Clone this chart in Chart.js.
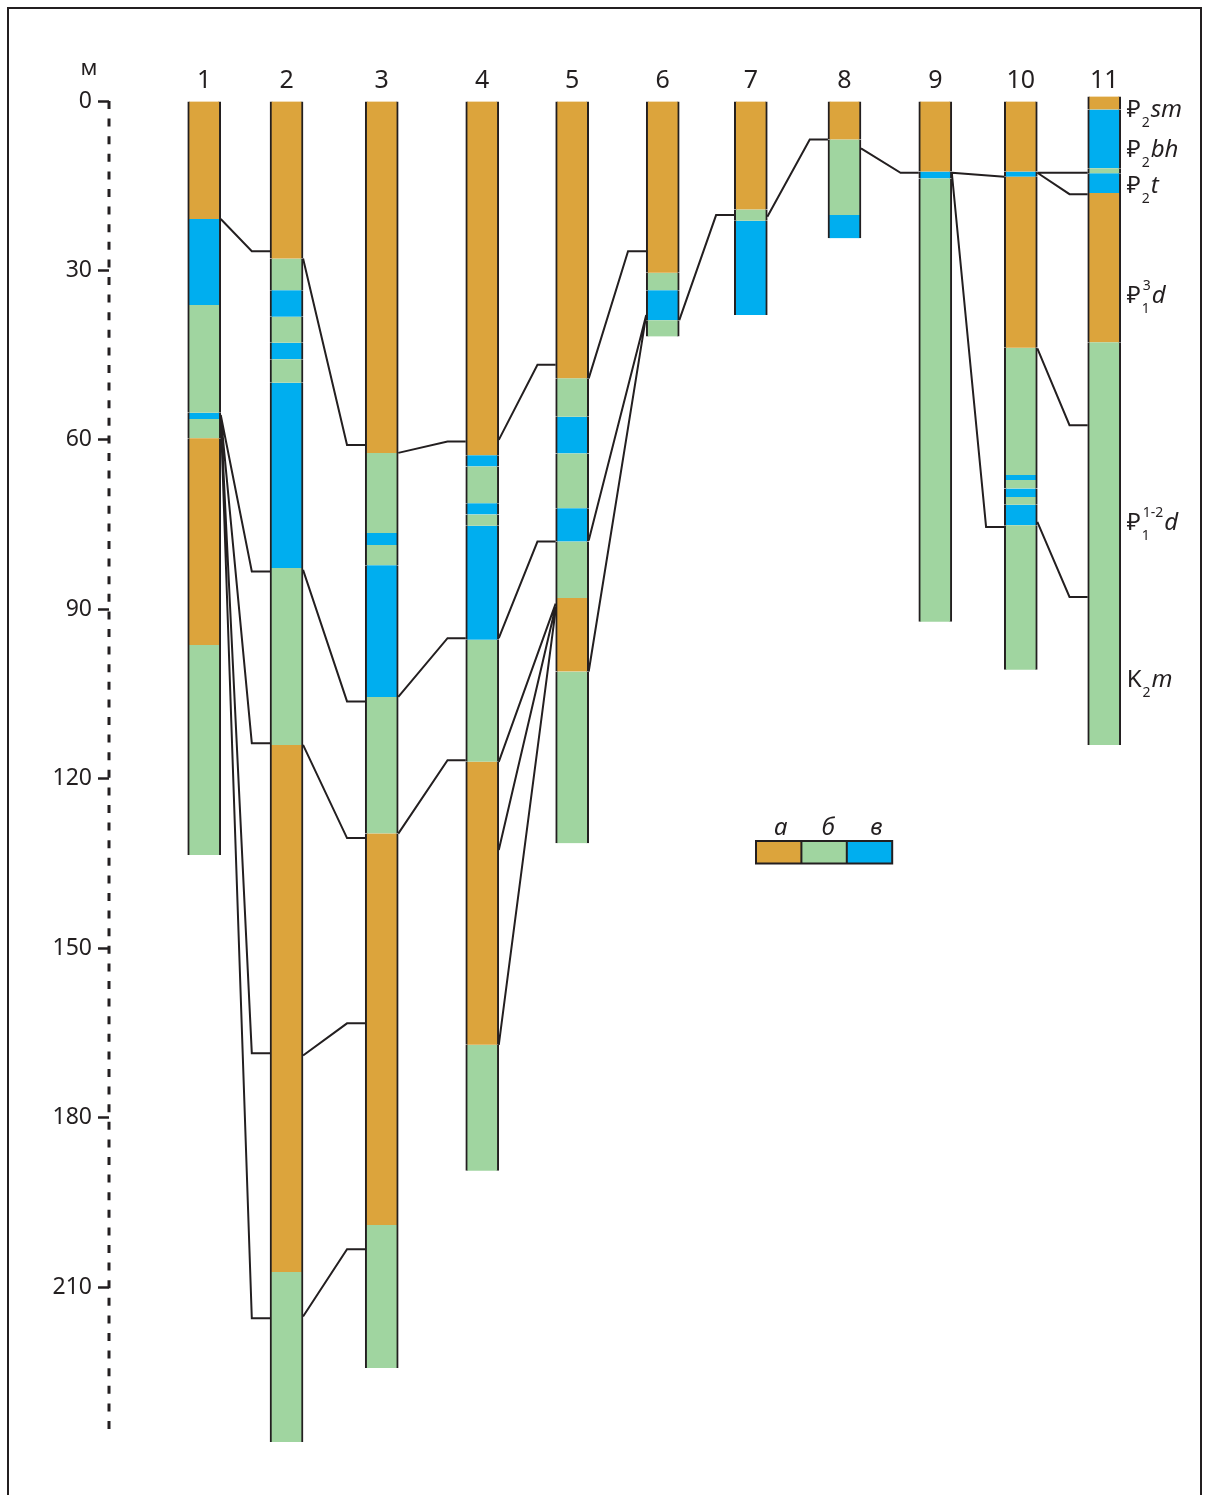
<!DOCTYPE html>
<html>
<head>
<meta charset="utf-8">
<script src="https://cdn.jsdelivr.net/npm/chart.js@4.4.1/dist/chart.umd.min.js"></script>
<style>
  html, body { margin: 0; padding: 0; background: #fff; }
  #wrap { position: relative; width: 1211px; height: 1495px; overflow: hidden; }
  #wrap canvas { position: absolute; left: 0; top: 0; }
  #frame { position: absolute; left: 7px; top: 7px; width: 1195px; height: 1540px;
           border: 2px solid #231f20; box-sizing: border-box; pointer-events: none; }
</style>
</head>
<body>
<div id="wrap">
  <canvas id="section" width="1211" height="1495"></canvas>
  <div id="frame"></div>
</div>
<script>
const wellNames = ['1', '2', '3', '4', '5', '6', '7', '8', '9', '10', '11'];
// position of each well along the section line
const wellX = [8.64, 16.11, 24.75, 33.87, 42.03, 50.25, 58.24, 66.74, 74.98, 82.74, 90.31];
const depthTicks = [0, 30, 60, 90, 120, 150, 180, 210];

// layers: [top, bottom, lithology], depth in m; a = а, b = б, v = в
const well1 = [[0, 20.9, 'a'], [20.9, 36.1, 'v'], [36.1, 55.2, 'b'], [55.2, 56.3, 'v'], [56.3, 59.7, 'b'],
               [59.7, 96.3, 'a'], [96.3, 133.5, 'b']];
const well2 = [[0, 27.9, 'a'], [27.9, 33.5, 'b'], [33.5, 38.2, 'v'], [38.2, 42.8, 'b'], [42.8, 45.7, 'v'],
               [45.7, 49.9, 'b'], [49.9, 82.7, 'v'], [82.7, 114.0, 'b'], [114.0, 207.3, 'a'], [207.3, 237.4, 'b']];
const well3 = [[0, 62.3, 'a'], [62.3, 76.5, 'b'], [76.5, 78.6, 'v'], [78.6, 82.2, 'b'], [82.2, 105.5, 'v'],
               [105.5, 129.7, 'b'], [129.7, 199.0, 'a'], [199.0, 224.3, 'b']];
const well4 = [[0, 62.7, 'a'], [62.7, 64.7, 'v'], [64.7, 71.2, 'b'], [71.2, 73.2, 'v'], [73.2, 75.2, 'b'],
               [75.2, 95.4, 'v'], [95.4, 117.0, 'b'], [117.0, 167.1, 'a'], [167.1, 189.4, 'b']];
const well5 = [[0, 49.1, 'a'], [49.1, 55.9, 'b'], [55.9, 62.4, 'v'], [62.4, 72.1, 'b'], [72.1, 78.0, 'v'],
               [78.0, 88.0, 'b'], [88.0, 101.0, 'a'], [101.0, 131.4, 'b']];
const well6 = [[0, 30.4, 'a'], [30.4, 33.5, 'b'], [33.5, 38.8, 'v'], [38.8, 41.7, 'b']];
const well7 = [[0, 19.2, 'a'], [19.2, 21.2, 'b'], [21.2, 37.9, 'v']];
const well8 = [[0, 6.8, 'a'], [6.8, 20.2, 'b'], [20.2, 24.3, 'v']];
const well9 = [[0, 12.5, 'a'], [12.5, 13.7, 'v'], [13.7, 92.2, 'b']];
const well10 = [[0, 12.5, 'a'], [12.5, 13.4, 'v'], [13.4, 43.7, 'a'], [43.7, 66.2, 'b'], [66.2, 67.1, 'v'],
                [67.1, 68.6, 'b'], [68.6, 70.1, 'v'], [70.1, 71.5, 'b'], [71.5, 75.1, 'v'], [75.1, 100.7, 'b']];
const well11 = [[-0.8, 1.5, 'a'], [1.5, 11.9, 'v'], [11.9, 12.8, 'b'], [12.8, 16.3, 'v'], [16.3, 42.7, 'a'],
                [42.7, 114.0, 'b']];

// correlation: [from well, depth at its right side, to well, depth at its left side, hooked end]
const links = [
  [1, 20.9, 2, 26.6, 1], [1, 55.6, 2, 83.3, 1], [1, 55.6, 2, 113.7, 1], [1, 55.6, 2, 168.6, 1], [1, 55.6, 2, 215.5, 1],
  [2, 27.9, 3, 60.9, 1], [2, 83.0, 3, 106.3, 1], [2, 114.0, 3, 130.5, 1], [2, 169.0, 3, 163.3, 1], [2, 215.2, 3, 203.3, 1],
  [3, 62.3, 4, 60.3, 1], [3, 105.5, 4, 95.1, 1], [3, 129.7, 4, 116.7, 1],
  [4, 60.0, 5, 46.7, 1], [4, 95.1, 5, 78.0, 1], [4, 117.0, 5, 89.0, 0], [4, 132.6, 5, 89.5, 0], [4, 167.1, 5, 90.1, 0],
  [5, 49.1, 6, 26.6, 1], [5, 77.8, 6, 37.9, 0], [5, 101.0, 6, 37.9, 0],
  [6, 38.8, 7, 20.2, 1],
  [7, 20.5, 8, 6.8, 1],
  [8, 8.4, 9, 12.7, 1],
  [9, 12.7, 10, 13.4, 0], [9, 12.7, 10, 75.4, 1],
  [10, 12.7, 11, 12.7, 0], [10, 12.7, 11, 16.5, 1], [10, 43.8, 11, 57.4, 1], [10, 74.5, 11, 87.8, 1]
];

// stratigraphic units beside well 11: [text, kind, superscript]
const unitNames = [
  [['₽'], ['2', 'sub'], ['sm', 'it']],
  [['₽'], ['2', 'sub'], ['bh', 'it']],
  [['₽'], ['2', 'sub'], ['t', 'it']],
  [['₽'], ['1', 'sub', '3'], ['d', 'it']],
  [['₽'], ['1', 'sub', '1-2'], ['d', 'it']],
  [['K'], ['2', 'sub'], ['m', 'it']]
];
const unitDepths = [2.8, 9.9, 16.3, 35.8, 76.0, 103.8];

const lithKeys = ['a', 'b', 'v'];
const lithLabels = ['а', 'б', 'в'];

const ink = '#231f20';
const lithColors = { a: '#dca43c', b: '#a0d5a0', v: '#00aeef' };
const wells = [well1, well2, well3, well4, well5, well6, well7, well8, well9, well10, well11];
const HALF = 1.5;   // half column width, section units
const HOOK = 1.65;  // horizontal end of a correlation line

const barSets = lithKeys.map((k, n) => ({
  type: 'bar',
  label: lithLabels[n],
  data: wells.flatMap((layers, i) => layers
    .filter(l => l[2] === k)
    .map(l => ({ x: wellX[i], y: [l[0], l[1]] }))),
  backgroundColor: lithColors[k],
  borderColor: ink,
  borderWidth: { left: 2, right: 2, top: 0, bottom: 0 },
  borderSkipped: false,
  barThickness: 33,
  grouped: false,
  clip: false,
  order: 1
}));

const linkPoints = [];
links.forEach(([a, dOut, b, dIn, hook]) => {
  const xEnd = wellX[b - 1] - HALF;
  linkPoints.push({ x: wellX[a - 1] + HALF, y: dOut });
  if (hook) linkPoints.push({ x: xEnd - HOOK, y: dIn });
  linkPoints.push({ x: xEnd, y: dIn });
  linkPoints.push({ x: xEnd, y: null });
});

const linkSet = {
  type: 'line',
  label: 'correlation',
  data: linkPoints,
  borderColor: ink,
  borderWidth: 2,
  pointRadius: 0,
  tension: 0,
  fill: false,
  spanGaps: false,
  clip: false,
  order: 2
};

const fontOf = (size, style) => (style ? style + ' ' : '') + size + 'px "Noto Sans", "DejaVu Sans", sans-serif';

const sectionText = {
  id: 'sectionText',
  afterDraw(chart) {
    const { ctx, chartArea: area, scales: { x, y } } = chart;
    ctx.save();
    ctx.fillStyle = ink;
    ctx.strokeStyle = ink;

    // dashed depth axis
    ctx.lineWidth = 3;
    ctx.setLineDash([8, 9.6]);
    ctx.beginPath();
    ctx.moveTo(area.left, area.top);
    ctx.lineTo(area.left, area.bottom);
    ctx.stroke();
    ctx.setLineDash([]);

    ctx.textAlign = 'center';
    ctx.textBaseline = 'alphabetic';
    ctx.font = fontOf(22);
    ctx.fillText('м', area.left - 20, area.top - 26);

    // well numbers
    ctx.font = fontOf(25);
    wellNames.forEach((n, i) => ctx.fillText(n, x.getPixelForValue(wellX[i]), area.top - 13));

    // unit names to the right of the last well
    ctx.textAlign = 'left';
    const x0 = x.getPixelForValue(wellX[wellX.length - 1] + HALF) + 6;
    unitNames.forEach((parts, i) => {
      const base = y.getPixelForValue(unitDepths[i]);
      let cx = x0;
      parts.forEach(([txt, kind, sup]) => {
        if (kind === 'sub') {
          ctx.font = fontOf(14);
          ctx.fillText(txt, cx + 1, base + 10);
          let w = ctx.measureText(txt).width;
          if (sup) {
            ctx.fillText(sup, cx + 2, base - 13);
            w = Math.max(w, ctx.measureText(sup).width + 1);
          }
          cx += w + 2;
        } else {
          ctx.font = fontOf(24, kind === 'it' ? 'italic' : '');
          ctx.fillText(txt, cx, base);
          cx += ctx.measureText(txt).width;
        }
      });
    });

    // legend
    const lx = 756, ly = 841, bw = 45.4, bh = 22.5;
    const shift = [2, 4, 7];
    lithKeys.forEach((k, i) => {
      ctx.fillStyle = lithColors[k];
      ctx.fillRect(lx + i * bw, ly, bw, bh);
      ctx.fillStyle = ink;
      ctx.font = fontOf(24, 'italic');
      ctx.textAlign = 'center';
      ctx.fillText(lithLabels[i], lx + i * bw + bw / 2 + shift[i], ly - 6);
    });
    ctx.lineWidth = 2;
    ctx.strokeRect(lx, ly, bw * 3, bh);
    ctx.beginPath();
    ctx.moveTo(lx + bw, ly); ctx.lineTo(lx + bw, ly + bh);
    ctx.moveTo(lx + 2 * bw, ly); ctx.lineTo(lx + 2 * bw, ly + bh);
    ctx.stroke();
    ctx.restore();
  }
};

const ctx = document.getElementById('section').getContext('2d');
const chart = new Chart(ctx, {
  type: 'bar',
  data: { datasets: [...barSets, linkSet] },
  options: {
    responsive: false,
    animation: false,
    events: [],
    layout: { padding: { left: 0, right: 0, top: 101, bottom: 61 } },
    plugins: { legend: { display: false }, tooltip: { enabled: false } },
    scales: {
      x: { type: 'linear', min: 0, max: 100, offset: false, display: false },
      y: {
        type: 'linear',
        reverse: true,
        min: 0,
        max: 236,
        afterFit: s => { s.width = 109; },
        afterBuildTicks: s => { s.ticks = depthTicks.map(v => ({ value: v })); },
        grid: { drawOnChartArea: false, drawTicks: true, tickLength: 11, tickWidth: 2.5, tickColor: ink },
        border: { display: false },
        ticks: { padding: 6, color: ink, font: { family: 'Noto Sans', size: 23 } }
      }
    }
  },
  plugins: [sectionText]
});
</script>
</body>
</html>
